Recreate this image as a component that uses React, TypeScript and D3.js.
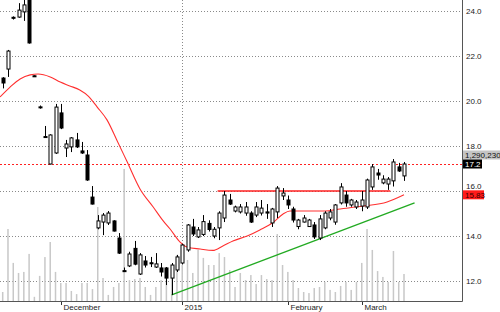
import React from "react";
import * as d3 from "d3";

const opens = [21.02,21.42,23.72,23.73,23.96,24.7,21.12,19.72,18.42,17.2,17.69,19.47,17.91,17.96,18.27,17.78,17.6,15.73,14.36,14.62,14.58,14.67,13.91,12.46,12.67,13.45,12.31,12.89,12.81,12.62,12.58,12.58,12.13,12.49,12.8,13.38,14.4,13.96,14.07,14.56,14.0,14.36,14.8,15.6,15.11,15.07,15.02,15.02,14.93,15.02,15.07,14.58,15.07,15.78,15.6,15.2,14.42,14.62,14.42,14.49,13.91,14.36,14.8,14.62,15.47,15.82,15.38,15.29,15.33,15.29,16.18,16.8,16.36,16.31,16.45,17.07,16.67];
const highs = [21.06,22.27,23.76,24.35,24.55,24.8,21.14,19.8,18.89,18.52,19.87,19.87,18.27,18.4,18.58,18.18,17.82,16.22,14.93,15.02,15.11,14.7,14.13,12.6,13.3,13.78,13.24,13.11,13.07,13.24,12.8,12.62,12.8,13.16,13.65,14.53,14.76,14.4,14.93,14.7,14.4,15.1,16.0,15.87,15.35,15.42,15.51,15.1,15.51,15.6,15.42,15.25,16.22,16.13,15.8,15.3,14.76,14.93,14.76,14.62,14.93,15.1,15.2,15.42,16.35,16.0,15.65,15.6,16.0,16.55,17.2,16.98,16.7,16.62,17.42,17.25,17.29];
const lows = [20.56,21.07,23.62,23.7,23.56,22.55,21.08,19.66,18.36,17.18,17.65,18.75,17.51,17.73,17.91,17.65,16.45,15.4,14.3,14.04,14.49,14.2,13.2,12.42,12.62,12.7,12.27,12.6,12.62,12.58,12.2,11.82,11.38,12.4,12.75,13.3,14.0,13.91,14.0,14.2,13.9,13.82,14.62,15.38,15.05,15.0,14.9,14.58,14.84,14.91,14.76,14.4,14.8,15.6,15.2,14.6,14.3,14.6,14.4,13.87,13.82,14.3,14.7,14.5,15.4,15.3,15.3,15.2,15.1,15.2,16.05,16.5,16.3,16.05,16.2,16.85,16.45];
const closes = [20.8,22.22,23.68,24.04,24.27,22.58,21.1,19.74,18.38,18.49,19.73,18.8,18.09,18.36,17.96,17.69,16.49,15.42,14.67,14.93,15.02,14.22,13.24,12.44,13.2,12.75,13.16,12.71,12.79,12.76,12.4,12.13,12.71,13.07,13.6,14.49,14.09,14.27,14.64,14.29,14.3,15.02,15.82,15.42,15.29,15.29,15.29,14.62,15.29,15.24,15.02,15.2,16.13,15.91,15.38,14.71,14.71,14.8,14.71,13.96,14.76,15.02,15.07,15.38,16.18,15.47,15.6,15.51,15.6,16.49,17.07,16.71,16.53,16.53,17.29,16.89,17.2];
// volume in thousands of shares
const volumes = [430,3440,1820,1340,1390,2250,200,1200,2100,2820,1390,860,860,480,330,860,860,570,4490,1100,290,670,860,6310,1000,1050,1100,670,290,670,1000,1200,1390,2200,1720,1960,1340,2440,2060,1720,1720,2290,2100,1480,670,1340,1000,1240,810,1240,1050,1000,3200,1720,1390,1000,620,430,380,620,670,910,530,430,720,910,530,910,1820,3440,2440,1430,1150,910,2390,910,1290.23];

// moving average: [bar index, value]
const maIdx = [-0.5,1.4,3.3,5.2,6.7,9,10.9,12.7,14.6,16.2,17.9,19.75,21.6,23.5,26,28.5,30.4,31.7,33.6,34.9,37.4,39.8,41.7,43.6,46.3,48.7,51.2,53.1,54.4,57.6,61,63.9,68.2,72.8,76];
const maVal = [20.18,20.62,20.98,21.16,21.2,21.07,20.84,20.67,20.49,20.22,19.73,19.16,18.27,17.33,16.09,15.29,14.67,14.31,13.73,13.51,13.42,13.36,13.56,13.78,14.0,14.27,14.6,14.98,15.11,15.11,15.11,15.2,15.33,15.51,15.83];

const priceTicks = [12, 14, 16, 18, 20, 22, 24];
const monthIdx = [11, 34, 54, 68];
const monthLabels = ["December", "2015", "February", "March"];
const yearBoundaryIdx = 34;

const resistance = { from: 40.7, to: 73.4, value: 16.0 };
const trend = { from: 32, fromValue: 11.38, to: 78, toValue: 15.47 };
const lastClose = 17.2;
const lastVolumeLabel = "1,290,230";
const maLast = 15.83;

const W = 500, H = 312;
const plotRight = 462.5;
const plotBottom = 301.5;
const FONT = "'Liberation Sans', Arial, sans-serif";

export default function App() {
  const x = d3.scaleLinear().domain([0, 76]).range([2.7, 404]);
  const y = d3.scaleLinear().domain([12, 24]).range([281, 11]);
  const vy = d3.scaleLinear().domain([0, 1290.23]).range([301, 274]);

  const maLine = d3.line<number>()
    .x((_, i) => x(maIdx[i]))
    .y((d) => y(d))
    .curve(d3.curveMonotoneX);

  const cx = (i: number) => Math.round(x(i)) + 0.5;
  const maBoxTop = y(maLast) - 4.5;

  return (
    <svg width={W} height={H} style={{ position: "absolute", left: 0, top: 0, background: "#fff" }} fontFamily={FONT}>
      <defs>
        <clipPath id="plot">
          <rect x={0} y={0} width={plotRight} height={plotBottom} />
        </clipPath>
      </defs>
      <rect x={0} y={0} width={W} height={H} fill="#fff" />
      <g clipPath="url(#plot)">
        {priceTicks.map((p) => (
          <line key={p} x1={0} x2={plotRight} y1={Math.round(y(p)) + 0.5} y2={Math.round(y(p)) + 0.5}
            stroke="#8a8a8a" strokeWidth={1} strokeDasharray="1,2" />
        ))}
        <line x1={Math.round(x(yearBoundaryIdx)) + 0.5} x2={Math.round(x(yearBoundaryIdx)) + 0.5} y1={0} y2={plotBottom}
          stroke="#8a8a8a" strokeWidth={1} strokeDasharray="1,2" />
        {volumes.map((v, i) => (
          <rect key={i} x={x(i) - 0.75} y={vy(v)} width={1.5} height={301 - vy(v)} fill="#c8c8c8" />
        ))}
        <line x1={0} x2={plotRight} y1={Math.round(y(lastClose)) + 0.5} y2={Math.round(y(lastClose)) + 0.5}
          stroke="#ff2020" strokeWidth={1} strokeDasharray="2,2" />
        <path d={maLine(maVal) || ""} fill="none" stroke="#ff3030" strokeWidth={1.1} />
        <line x1={x(resistance.from)} x2={x(resistance.to)} y1={y(resistance.value)} y2={y(resistance.value)}
          stroke="#ff2020" strokeWidth={1.3} />
        <line x1={x(trend.from)} x2={x(trend.to)} y1={y(trend.fromValue)} y2={y(trend.toValue)}
          stroke="#22aa22" strokeWidth={1.3} />
        {closes.map((c, i) => {
          const o = opens[i];
          const up = c >= o;
          const top = y(Math.max(o, c));
          const bot = y(Math.min(o, c));
          const px = cx(i);
          return (
            <g key={i}>
              <line x1={px} x2={px} y1={y(highs[i])} y2={y(lows[i])} stroke="#000" strokeWidth={1} />
              <rect x={px - 1.5} y={top} width={3} height={Math.max(bot - top, 1)}
                fill={up ? "#fff" : "#000"} stroke="#000" strokeWidth={1} />
            </g>
          );
        })}
      </g>
      <line x1={plotRight} x2={plotRight} y1={0} y2={plotBottom} stroke="#555" strokeWidth={1} />
      <line x1={0} x2={plotRight} y1={plotBottom} y2={plotBottom} stroke="#555" strokeWidth={1} />
      {priceTicks.map((p) => {
        // keep the tick label just clear of the moving-average value box
        const ty = Math.min(y(p), p === 16 ? maBoxTop - 4.5 : y(p));
        return (
          <text key={p} x={466} y={ty} dy="0.35em" fontSize={8} fill="#222">{p.toFixed(1)}</text>
        );
      })}
      {monthIdx.map((m, k) => (
        <g key={m}>
          <line x1={cx(m)} x2={cx(m)} y1={302} y2={305} stroke="#333" strokeWidth={1} />
          <text x={cx(m) + 2} y={309.5} fontSize={8} fill="#222">{monthLabels[k]}</text>
        </g>
      ))}
      <g>
        <rect x={463} y={y(lastClose) - 13.5} width={37} height={9} fill="#c4c4c4" />
        <text x={465} y={y(lastClose) - 9} dy="0.35em" fontSize={8} fill="#111">{lastVolumeLabel}</text>
        <rect x={463} y={y(lastClose) - 4.5} width={19} height={9} fill="#000" />
        <text x={465} y={y(lastClose)} dy="0.35em" fontSize={8} fill="#fff">{lastClose.toFixed(1)}</text>
        <rect x={463} y={maBoxTop} width={21} height={9} fill="#ff1a1a" />
        <text x={465} y={y(maLast)} dy="0.35em" fontSize={8} fill="#300">{maLast.toFixed(2)}</text>
      </g>
    </svg>
  );
}
